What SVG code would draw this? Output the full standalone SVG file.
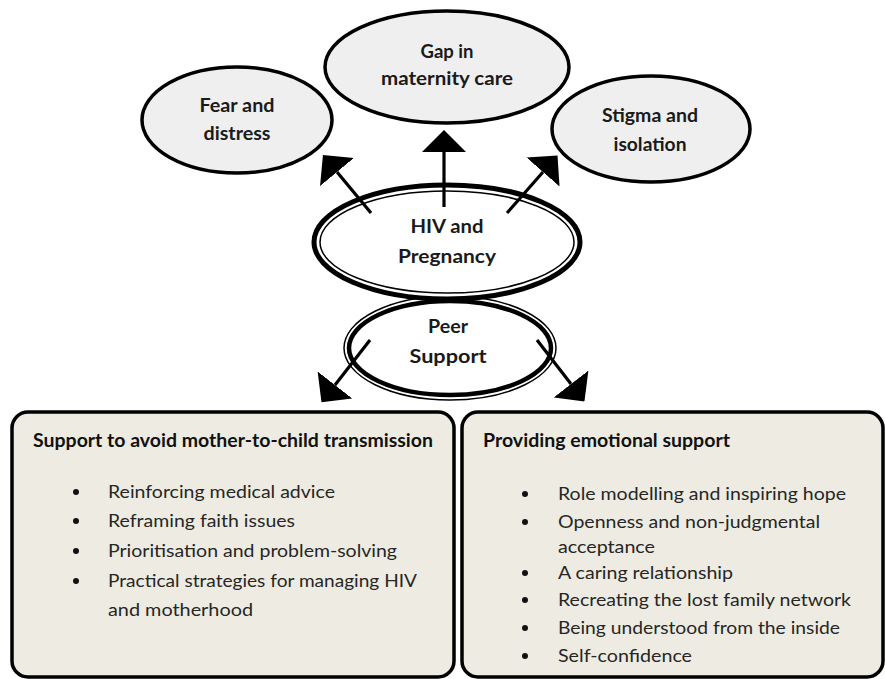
<svg xmlns="http://www.w3.org/2000/svg" width="885" height="679" viewBox="0 0 885 679">
<defs>
<style>
.bg{fill:#ffffff}
.oval{fill:#efefef;stroke:#000;stroke-width:3.5}
.lbl{font-family:Lato,"Liberation Sans",sans-serif;font-weight:bold;font-size:18.5px;fill:#1a1a1a;text-anchor:middle}
.box{fill:#eeece2;stroke:#000;stroke-width:3.5}
.title{font-family:Lato,"Liberation Sans",sans-serif;font-weight:bold;font-size:18px;fill:#111}
.item{font-family:Lato,"Liberation Sans",sans-serif;font-size:17px;fill:#262626}
.dot{fill:#111}
.conn{stroke:#000;stroke-width:3.2;fill:none;marker-end:url(#ah)}
</style>
<marker id="ah" markerUnits="userSpaceOnUse" viewBox="0 -22 22 44" refX="0" refY="0" markerWidth="22" markerHeight="44" orient="auto">
<path d="M0,-22 L22,0 L0,22 Z" fill="#000"/>
</marker>
</defs>
<rect class="bg" x="0" y="0" width="885" height="679"/>

<g id="fear">
<ellipse class="oval" cx="237" cy="120" rx="95" ry="53"/>
<text class="lbl" x="237" y="112" textLength="75" lengthAdjust="spacingAndGlyphs">Fear and</text>
<text class="lbl" x="237" y="140" textLength="67" lengthAdjust="spacingAndGlyphs">distress</text>
</g>
<g id="gap">
<ellipse class="oval" cx="447" cy="67" rx="122" ry="56"/>
<text class="lbl" x="447" y="58" textLength="53" lengthAdjust="spacingAndGlyphs">Gap in</text>
<text class="lbl" x="447" y="85" textLength="132" lengthAdjust="spacingAndGlyphs">maternity care</text>
</g>
<g id="stigma">
<ellipse class="oval" cx="651" cy="129" rx="99" ry="53"/>
<text class="lbl" x="650" y="122" textLength="96" lengthAdjust="spacingAndGlyphs">Stigma and</text>
<text class="lbl" x="650" y="151" textLength="73" lengthAdjust="spacingAndGlyphs">isolation</text>
</g>

<g id="peer">
<ellipse cx="450" cy="348" rx="106" ry="52" fill="#fff" stroke="#000" stroke-width="1.5"/>
<ellipse cx="450" cy="348" rx="101" ry="47" fill="#fff" stroke="#000" stroke-width="4.5"/>
<text class="lbl" x="448" y="333" textLength="40" lengthAdjust="spacingAndGlyphs">Peer</text>
<text class="lbl" x="448" y="363" textLength="77" lengthAdjust="spacingAndGlyphs">Support</text>
</g>
<g id="hiv">
<ellipse cx="447" cy="242" rx="133" ry="57" fill="#fff" stroke="#000" stroke-width="5"/>
<ellipse cx="447" cy="242" rx="127" ry="51" fill="none" stroke="#000" stroke-width="1.5"/>
<text class="lbl" x="447" y="233" textLength="73" lengthAdjust="spacingAndGlyphs">HIV and</text>
<text class="lbl" x="447" y="263" textLength="98" lengthAdjust="spacingAndGlyphs">Pregnancy</text>
</g>

<g id="connectors">
<line class="conn" x1="444" y1="207" x2="444" y2="152"/>
<line class="conn" x1="371" y1="213" x2="337" y2="172"/>
<line class="conn" x1="507" y1="213" x2="543" y2="172"/>
<line class="conn" x1="370" y1="340" x2="335" y2="385"/>
<line class="conn" x1="537" y1="340" x2="571" y2="384"/>
</g>

<g id="left-box">
<rect class="box" x="12" y="412" width="442" height="265" rx="16"/>
<text class="title" x="33" y="447" textLength="400" lengthAdjust="spacingAndGlyphs">Support to avoid  mother-to-child transmission</text>
<circle class="dot" cx="76" cy="492" r="3"/>
<circle class="dot" cx="76" cy="521" r="3"/>
<circle class="dot" cx="76" cy="551" r="3"/>
<circle class="dot" cx="76" cy="581" r="3"/>
<text class="item" x="108" y="498" textLength="227" lengthAdjust="spacingAndGlyphs">Reinforcing medical advice</text>
<text class="item" x="108" y="527" textLength="187" lengthAdjust="spacingAndGlyphs">Reframing faith issues</text>
<text class="item" x="108" y="557" textLength="289" lengthAdjust="spacingAndGlyphs">Prioritisation and problem-solving</text>
<text class="item" x="108" y="587" textLength="309" lengthAdjust="spacingAndGlyphs">Practical strategies for managing HIV</text>
<text class="item" x="108" y="616" textLength="145" lengthAdjust="spacingAndGlyphs">and motherhood</text>
</g>

<g id="right-box">
<rect class="box" x="462" y="412" width="421" height="265" rx="16"/>
<text class="title" x="483" y="447" textLength="247" lengthAdjust="spacingAndGlyphs">Providing emotional support</text>
<circle class="dot" cx="525" cy="494" r="3"/>
<circle class="dot" cx="525" cy="522" r="3"/>
<circle class="dot" cx="525" cy="573" r="3"/>
<circle class="dot" cx="525" cy="600" r="3"/>
<circle class="dot" cx="525" cy="628" r="3"/>
<circle class="dot" cx="525" cy="656" r="3"/>
<text class="item" x="558" y="500" textLength="288" lengthAdjust="spacingAndGlyphs">Role modelling and inspiring hope</text>
<text class="item" x="558" y="528" textLength="262" lengthAdjust="spacingAndGlyphs">Openness and non-judgmental</text>
<text class="item" x="558" y="553" textLength="97" lengthAdjust="spacingAndGlyphs">acceptance</text>
<text class="item" x="558" y="579" textLength="175" lengthAdjust="spacingAndGlyphs">A caring relationship</text>
<text class="item" x="558" y="606" textLength="293" lengthAdjust="spacingAndGlyphs">Recreating the lost family network</text>
<text class="item" x="558" y="634" textLength="282" lengthAdjust="spacingAndGlyphs">Being understood from the inside</text>
<text class="item" x="558" y="662" textLength="134" lengthAdjust="spacingAndGlyphs">Self-confidence</text>
</g>
</svg>
